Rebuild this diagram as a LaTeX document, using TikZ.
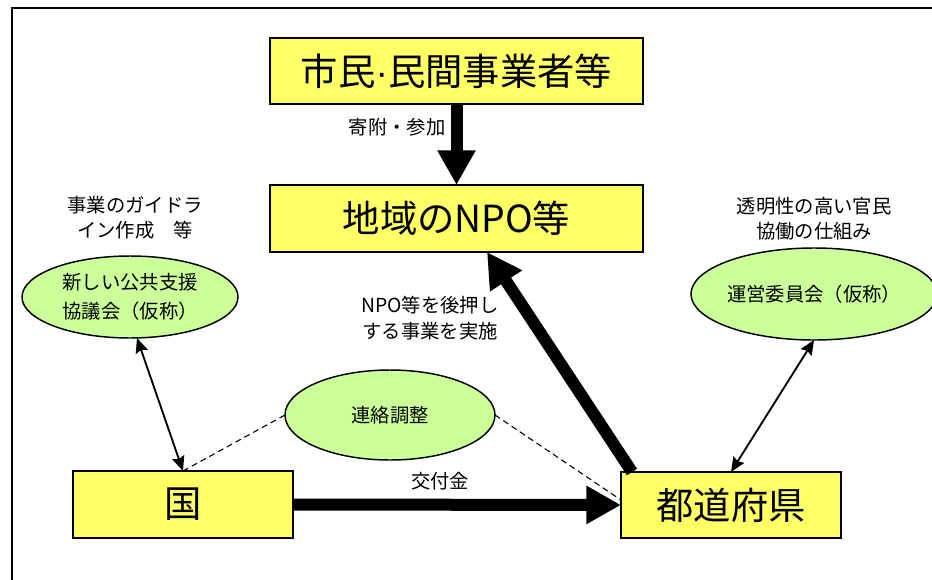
\documentclass[tikz,border=0pt]{standalone}
\usepackage{fontspec}
\setmainfont{Noto Sans CJK JP}
\newfontfamily\dotfont{Liberation Sans}
\usetikzlibrary{arrows.meta,calc,shapes.geometric}
\definecolor{boxyellow}{RGB}{255,255,102}
\definecolor{ellgreen}{RGB}{204,255,153}
\tikzset{
  ybox/.style={draw=black,line width=1.2pt,fill=boxyellow,rectangle,inner sep=0pt,outer sep=0pt,font=\fontsize{28pt}{32pt}\selectfont},
  gell/.style={draw=black,line width=1.1pt,fill=ellgreen,ellipse,inner sep=0pt,outer sep=0pt,align=center,font=\fontsize{14.5pt}{22pt}\selectfont},
  lbl/.style={align=center,inner sep=0pt,font=\fontsize{14.5pt}{19pt}\selectfont},
  bigarrow/.style={line width=9pt,-{Triangle[length=26pt,width=27pt]}},
  thinarrow/.style={line width=1.4pt,{Stealth[length=11pt,width=9.5pt,inset=1.5pt]}-{Stealth[length=11pt,width=9.5pt,inset=1.5pt]}},
  dashline/.style={line width=0.8pt,dash pattern=on 4.5pt off 3pt}
}
\begin{document}
\begin{tikzpicture}[x=0.75pt,y=-0.75pt]
\useasboundingbox (0,0) rectangle (932,579);
\begin{scope}
\clip (0,0) rectangle (932,579);
\draw[line width=1.6pt] (12,8) rectangle (980,620);
\end{scope}

\node[ybox,minimum width=279.75pt,minimum height=49.5pt] (top) at (456.5,71) {市民{\dotfont ·}民間事業者等};
\node[ybox,minimum width=279.75pt,minimum height=50.25pt] (npo) at (456.5,218.5) {地域のNPO等};
\node[ybox,minimum width=165pt,minimum height=50.25pt] (kuni) at (183,504.5) {国};
\node[ybox,minimum width=165pt,minimum height=49.5pt] (todo) at (731,505) {都道府県};

\node[gell,minimum width=162pt,minimum height=61.5pt] (lell) at (130,297) {新しい公共支援\\協議会（仮称）};
\node[gell,minimum width=157.5pt,minimum height=69pt] (rell) at (814,294) {運営委員会（仮称）};
\node[gell,minimum width=157.5pt,minimum height=67.5pt] (renraku) at (390,415) {連絡調整};

\node[lbl] (ltext) at (135,217.5) {事業のガイドラ\\イン作成　等};
\node[lbl] (rtext) at (814,219) {透明性の高い官民\\協働の仕組み};
\node[lbl] (kifu) at (397,127) {寄附・参加};
\node[lbl] (koufu) at (440,481) {交付金};
\node[lbl] (atoshi) at (430,318) {NPO等を後押し\\する事業を実施};

\draw[bigarrow] (top.south) -- (npo.north);
\draw[bigarrow] (kuni.east) -- (todo.west);
\draw[bigarrow] ($(todo.north west)+(11,0)$) -- ($(npo.south west)+(217,0)$);

\draw[thinarrow] ($(lell.south)+(7,0)$) -- (kuni.north);
\draw[thinarrow] (rell.south) -- (todo.north);

\draw[dashline] (kuni.north) -- (renraku.west);
\draw[dashline] (renraku.east) -- ($(todo.west)+(0,-5)$);
\end{tikzpicture}
\end{document}
